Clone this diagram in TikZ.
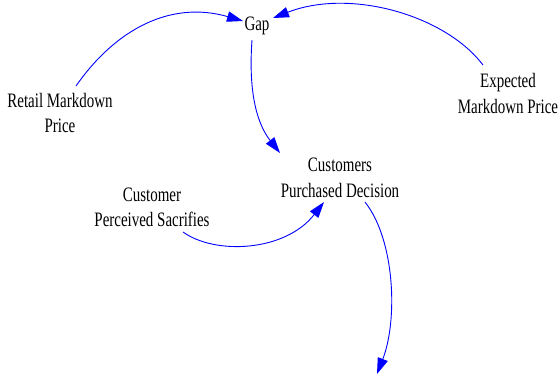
\documentclass[tikz,border=0pt]{standalone}
\usepackage{fontspec}
\newfontfamily\diagfont[FakeStretch=0.73]{Liberation Serif}
\usetikzlibrary{arrows.meta}
\begin{document}
\begin{tikzpicture}[x=1pt,y=-1pt,
  lbl/.style={inner sep=0pt, outer sep=0pt, align=center,
    font=\diagfont\fontsize{20.5}{25.5}\selectfont},
  link/.style={draw={rgb,255:red,0;green,0;blue,255}, line width=0.9pt,
    -{Triangle[length=16pt,width=10.5pt]}}]
\useasboundingbox (0,0) rectangle (560,376);
\node[lbl] (gap) at (257,26) {Gap};
\node[lbl] (ret) at (60,113) {Retail Markdown\\Price};
\node[lbl] (exp) at (508,93.5) {Expected\\Markdown Price};
\node[lbl] (cpd) at (340,178) {Customers\\Purchased Decision};
\node[lbl] (cps) at (152,207.5) {Customer\\Perceived Sacrifies};
\coordinate (out) at (377,374);
\draw[link] ([shift={(16,-27)}]ret.center) .. controls (115,30) and (170,0) .. ([shift={(-14,-5)}]gap.center);
\draw[link] ([shift={(-25,-28.5)}]exp.center) .. controls (445,15) and (350,-12) .. ([shift={(16,-8)}]gap.center);
\draw[link] ([shift={(-5,14)}]gap.center) .. controls (248,95) and (258,125) .. ([shift={(-60,-25)}]cpd.center);
\draw[link] ([shift={(31,24.5)}]cps.center) .. controls (215,255) and (285,252) .. ([shift={(-16,24)}]cpd.center);
\draw[link] ([shift={(25,24)}]cpd.center) .. controls (395,240) and (398,320) .. (out);
\end{tikzpicture}
\end{document}
